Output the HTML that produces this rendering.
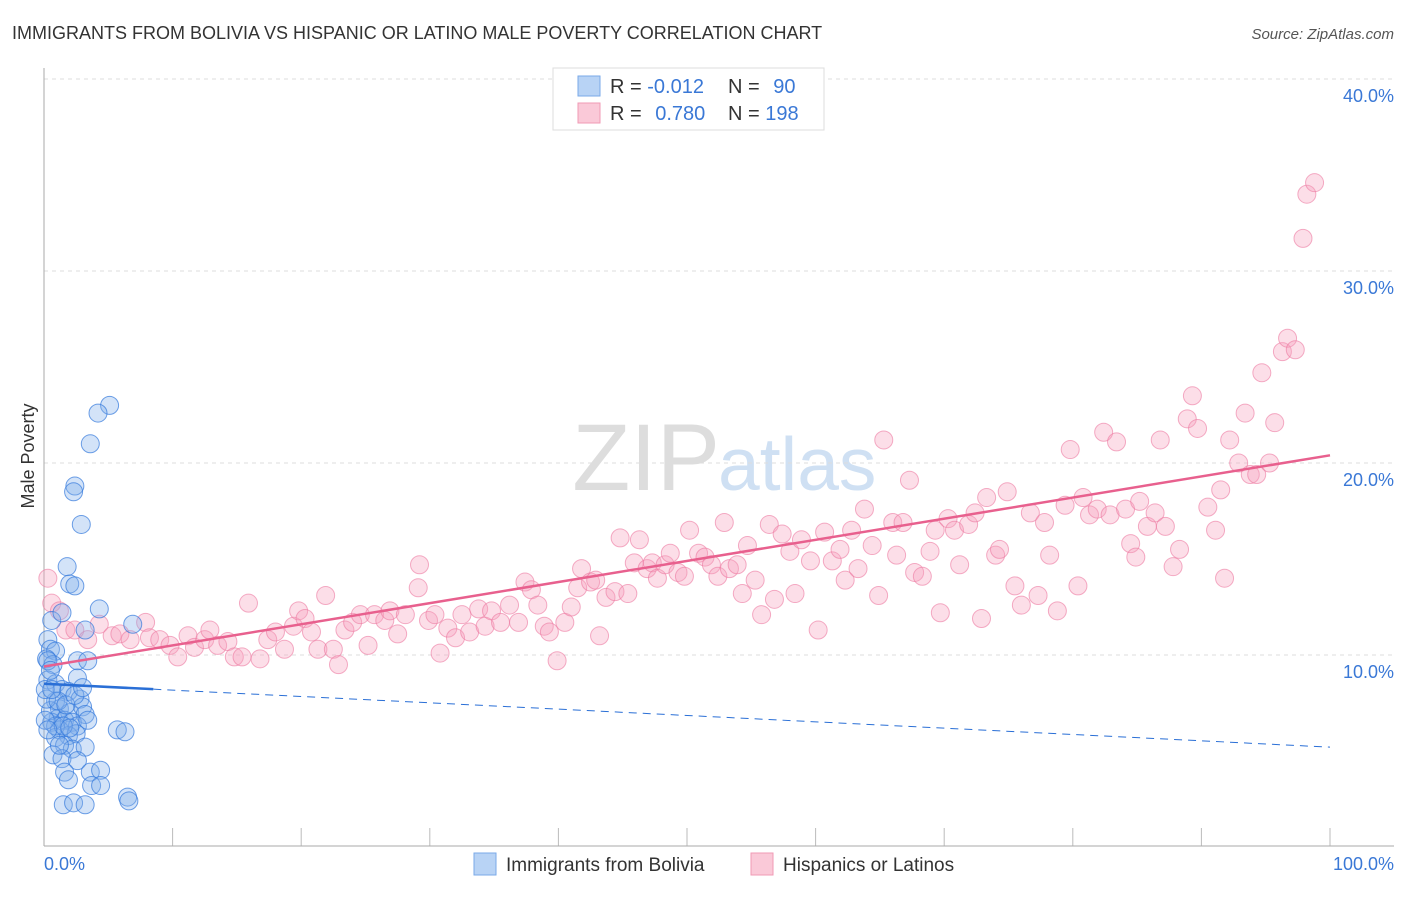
<!DOCTYPE html>
<html><head><meta charset="utf-8"><style>
body{margin:0;background:#fff;font-family:"Liberation Sans",sans-serif}
svg text{font-family:"Liberation Sans",sans-serif}
</style></head><body>
<svg id="c" width="1406" height="892" xmlns="http://www.w3.org/2000/svg">
<text x="12" y="39" font-size="18" fill="#333">IMMIGRANTS FROM BOLIVIA VS HISPANIC OR LATINO MALE POVERTY CORRELATION CHART</text>
<text x="1394" y="39" font-size="15" fill="#555" font-style="italic" text-anchor="end">Source: ZipAtlas.com</text>
<text x="720" y="490" font-size="95" fill="#ddd" text-anchor="end" font-family="Liberation Serif">ZIP</text>
<text x="718" y="490" font-size="75" fill="#cfe0f3">atlas</text>
<g id="grid"></g>
<line x1="44" y1="68" x2="44" y2="846" stroke="#aaa"/>
<line x1="44" y1="846" x2="1394" y2="846" stroke="#aaa"/>
<text transform="translate(34,456) rotate(-90)" font-size="18" fill="#333" text-anchor="middle">Male Poverty</text>
<text x="44" y="870" font-size="18" fill="#3a78d6">0.0%</text>
<text x="1394" y="870" font-size="18" fill="#3a78d6" text-anchor="end">100.0%</text>
<g id="pts"></g>
<g id="lines"></g>
<g>
<rect x="553" y="68" width="271" height="62" fill="#fff" stroke="#ddd"/>
<rect x="578" y="76" width="22" height="20" fill="#b8d3f5" stroke="#7aaae8"/>
<rect x="578" y="103" width="22" height="20" fill="#fac9d8" stroke="#f09ab5"/>
<text x="610" y="93" font-size="20" fill="#333">R = <tspan fill="#3a78d6">-0.012</tspan></text>
<text x="728" y="93" font-size="20" fill="#333">N = <tspan fill="#3a78d6" dx="8">90</tspan></text>
<text x="610" y="120" font-size="20" fill="#333">R = <tspan fill="#3a78d6" dx="8">0.780</tspan></text>
<text x="728" y="120" font-size="20" fill="#333">N = <tspan fill="#3a78d6">198</tspan></text>
</g>
<g>
<rect x="474" y="853" width="22" height="22" fill="#b8d3f5" stroke="#7aaae8"/>
<text x="506" y="871" font-size="19" fill="#333">Immigrants from Bolivia</text></g>
<g>
<rect x="751" y="853" width="22" height="22" fill="#fac9d8" stroke="#f09ab5"/>
<text x="783" y="871" font-size="19" fill="#333">Hispanics or Latinos</text></g>
</svg>
<script>
const yTicks=[10,20,30,40];
const xTicks=[0,10,20,30,40,50,60,70,80,90,100];
const pinkX=[0.3,0.6,1.2,1.7,2.4,3.4,4.3,5.3,5.9,6.7,7.9,8.2,9.0,9.8,10.4,11.2,11.7,12.5,12.9,13.5,14.3,14.8,15.4,15.9,16.8,17.4,18.0,18.7,19.4,19.8,20.3,20.8,21.3,21.9,22.5,22.9,23.4,24.0,24.6,25.2,25.7,26.5,26.9,27.5,28.1,29.1,29.2,29.9,30.4,30.8,31.4,32.0,32.5,33.1,33.8,34.3,34.8,35.5,36.2,36.9,37.4,37.9,38.4,38.9,39.3,39.9,40.5,41.0,41.5,41.8,42.5,42.9,43.2,43.7,44.4,44.8,45.4,45.9,46.3,46.9,47.3,47.7,48.3,48.7,49.3,49.8,50.2,50.9,51.4,51.9,52.4,52.9,53.3,53.9,54.3,54.7,55.3,55.8,56.4,56.8,57.4,58.0,58.4,58.9,59.6,60.2,60.7,61.3,61.9,62.3,62.8,63.3,63.8,64.4,64.9,65.3,66.0,66.3,66.8,67.3,67.7,68.3,68.9,69.3,69.7,70.3,70.8,71.2,71.9,72.4,72.9,73.3,74.0,74.3,74.9,75.5,76.0,76.7,77.3,77.8,78.2,78.8,79.4,79.8,80.4,80.8,81.3,81.9,82.4,82.9,83.4,84.1,84.5,84.9,85.2,85.8,86.4,86.8,87.2,87.8,88.3,88.9,89.3,89.7,90.5,91.1,91.5,91.8,92.2,92.9,93.4,93.8,94.3,94.7,95.3,95.7,96.3,96.7,97.3,97.9,98.2,98.8];
const pinkY=[14.0,12.7,12.3,11.3,11.3,10.8,11.6,11.0,11.1,10.8,11.7,10.9,10.8,10.5,9.9,11.0,10.4,10.8,11.3,10.5,10.7,9.9,9.9,12.7,9.8,10.8,11.2,10.3,11.5,12.3,11.9,11.2,10.3,13.1,10.3,9.5,11.3,11.7,12.1,10.5,12.1,11.8,12.3,11.1,12.1,13.5,14.7,11.8,12.1,10.1,11.4,10.9,12.1,11.2,12.4,11.5,12.3,11.7,12.6,11.7,13.8,13.4,12.6,11.5,11.2,9.7,11.7,12.5,13.5,14.5,13.8,13.9,11.0,13.0,13.3,16.1,13.2,14.8,16.0,14.5,14.8,14.0,14.7,15.3,14.3,14.1,16.5,15.3,15.1,14.7,14.1,16.9,14.5,14.7,13.2,15.7,13.9,12.1,16.8,12.9,16.3,15.4,13.2,16.0,14.9,11.3,16.4,14.9,15.5,13.9,16.5,14.5,17.6,15.7,13.1,21.2,16.9,15.2,16.9,19.1,14.3,14.1,15.4,16.5,12.2,17.1,16.5,14.7,16.8,17.4,11.9,18.2,15.2,15.5,18.5,13.6,12.6,17.4,13.1,16.9,15.2,12.3,17.8,20.7,13.6,18.2,17.3,17.6,21.6,17.3,21.1,17.6,15.8,15.1,18.0,16.7,17.4,21.2,16.7,14.6,15.5,22.3,23.5,21.8,17.7,16.5,18.6,14.0,21.2,20.0,22.6,19.4,19.4,24.7,20.0,22.1,25.8,26.5,25.9,31.7,34.0,34.6];
const blueX=[5.1,4.2,3.6,2.4,2.3,2.9,1.8,2.0,2.4,4.3,0.6,1.4,3.2,6.9,0.3,0.5,0.9,0.2,0.7,2.6,3.4,0.3,0.9,2.6,1.4,1.9,2.8,0.9,1.2,2.0,3.0,1.1,1.6,3.2,0.6,2.2,2.6,3.4,1.2,1.9,2.5,5.7,6.3,0.9,1.6,2.2,3.2,0.7,1.4,2.6,3.6,4.4,1.6,1.9,3.7,4.4,6.5,6.6,1.5,2.3,3.2,0.5,0.2,0.1,0.3,0.9,1.5,2.0,1.1,1.7,0.1,0.3,1.2,0.6,2.4,3.0,0.5];
const blueY=[23.0,22.6,21.0,18.8,18.5,16.8,14.6,13.7,13.6,12.4,11.8,12.2,11.3,11.6,10.8,10.3,10.2,9.8,9.5,9.7,9.7,8.7,8.5,8.8,8.2,8.1,7.7,7.6,7.2,7.0,7.3,6.7,6.6,6.9,6.5,6.5,6.3,6.6,6.1,5.8,5.9,6.1,6.0,5.7,5.3,5.1,5.2,4.8,4.6,4.5,3.9,4.0,3.9,3.5,3.2,3.2,2.6,2.4,2.2,2.3,2.2,7.1,7.7,8.2,9.7,6.3,6.3,6.2,7.6,7.4,6.6,6.1,5.3,8.2,7.9,8.3,9.2];
const pinkTrend=[9.4,20.4];
const blueTrend=[8.5,5.2];
const blueSolidEnd=8.5;
const NS='http://www.w3.org/2000/svg';
const sx=v=>44+v*12.86, sy=v=>847-v*19.2;
function mk(t,a,p){const e=document.createElementNS(NS,t);for(const k in a)e.setAttribute(k,a[k]);p.appendChild(e);return e;}
const grid=document.getElementById('grid');
yTicks.forEach(t=>{
 const l=mk('line',{x1:44,x2:1394,y1:sy(t),y2:sy(t),stroke:'#ddd','stroke-dasharray':'4,4'},grid);
 
 
 const tx=mk('text',{x:1394,y:sy(t)+23,'font-size':18,fill:'#3a78d6','text-anchor':'end'},grid);
 tx.textContent=t.toFixed(1)+'%';
 
 
});
xTicks.forEach(t=>{
 const l=mk('line',{x1:sx(t),x2:sx(t),y1:828,y2:846,stroke:'#bbb'},grid);
 
 
});
const pts=document.getElementById('pts');
pinkX.forEach((x,i)=>{
 const c=mk('circle',{cx:sx(x),cy:sy(pinkY[i]),r:9,fill:'rgba(246,160,188,0.35)',stroke:'rgba(236,120,160,0.6)'},pts);
 
 
});
blueX.forEach((x,i)=>{
 const c=mk('circle',{cx:sx(x),cy:sy(blueY[i]),r:9,fill:'rgba(130,175,235,0.35)',stroke:'rgba(50,120,220,0.7)'},pts);
 
 
});
const lines=document.getElementById('lines');
const bAt=x=>blueTrend[0]+(blueTrend[1]-blueTrend[0])*x/100;
const pl=mk('line',{x1:sx(0),y1:sy(pinkTrend[0]),x2:sx(100),y2:sy(pinkTrend[1]),stroke:'#e8608e','stroke-width':2.5},lines);


const bs=mk('line',{x1:sx(0),y1:sy(bAt(0)),x2:sx(blueSolidEnd),y2:sy(bAt(blueSolidEnd)),stroke:'#2a6fd6','stroke-width':2.5},lines);


const bd=mk('line',{x1:sx(blueSolidEnd),y1:sy(bAt(blueSolidEnd)),x2:sx(100),y2:sy(bAt(100)),stroke:'#2a6fd6','stroke-width':1,'stroke-dasharray':'8,6'},lines);


</script>
</body></html>
